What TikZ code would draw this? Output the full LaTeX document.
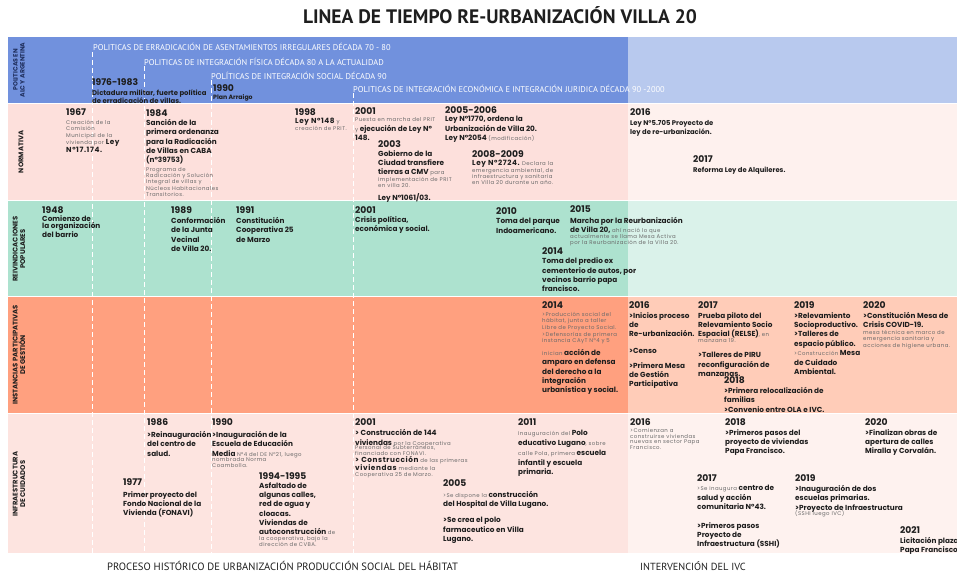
\documentclass[tikz,border=0pt]{standalone}
\usepackage{fontspec}
\setmainfont{Poppins}
\newfontfamily\spacedfont[LetterSpace=8]{Poppins}
\newfontfamily\condfont{PT Sans}
\usetikzlibrary{positioning}

\definecolor{ink}{HTML}{1E1E1E}
\definecolor{greytxt}{HTML}{6A6A6A}
\definecolor{navyink}{HTML}{1F2E5C}
\definecolor{polblue}{HTML}{7191DD}
\definecolor{polblueL}{HTML}{B8C9EE}
\definecolor{normpink}{HTML}{FDE0DC}
\definecolor{normpinkL}{HTML}{FEF1EE}
\definecolor{reivgreen}{HTML}{ADE2CF}
\definecolor{reivgreenL}{HTML}{DAF2EA}
\definecolor{instsalmon}{HTML}{FFA07F}
\definecolor{instsalmonL}{HTML}{FFCCB8}
\definecolor{infrapink}{HTML}{FDE4E0}
\definecolor{infrapinkL}{HTML}{FEF2EF}

\newcommand{\smtxt}[1]{{\spacedfont\fontsize{5.4}{6.4}\selectfont\mdseries\color{greytxt}#1}}
\newcommand{\bdtxt}[1]{{\fontsize{7.3}{9.4}\selectfont\bfseries\color{ink}#1}}

\begin{document}
\begin{tikzpicture}[x=1pt,y=-1pt,
	yearlbl/.style={anchor=north west,inner sep=0pt,text=ink,font=\fontsize{9.2}{10}\selectfont\bfseries},
	boldtxt/.style={anchor=north west,inner sep=0pt,align=left,text=ink,font=\fontsize{7.3}{9.4}\selectfont\bfseries},
	smalltxt/.style={anchor=north west,inner sep=0pt,align=left,text=greytxt,font=\spacedfont\fontsize{5.4}{6.4}\selectfont},
	bandtxt/.style={anchor=west,inner sep=0pt,text=white,font=\condfont\fontsize{8.4}{9}\selectfont},
	rowlbl/.style={rotate=90,inner sep=0pt,align=center,text=ink,font=\fontsize{6.8}{7.6}\selectfont\bfseries},
	dashline/.style={white,line width=0.8pt,dash pattern=on 5pt off 3pt}]

	\useasboundingbox (0,0) rectangle (957,574);

	\fill[polblue] (8,37) rectangle (627.5,103.3);
	\fill[polblueL] (627.5,37) rectangle (957,103.3);
	\fill[normpink] (8,104) rectangle (627.5,200.3);
	\fill[normpinkL] (627.5,104) rectangle (957,200.3);
	\fill[reivgreen] (8,201) rectangle (627.5,296.3);
	\fill[reivgreenL] (627.5,201) rectangle (957,296.3);
	\fill[instsalmon] (8,297) rectangle (627.5,413.3);
	\fill[instsalmonL] (627.5,297) rectangle (957,413.3);
	\fill[infrapink] (8,414) rectangle (627.5,553);
	\fill[infrapinkL] (627.5,414) rectangle (957,553);

	\coordinate (d1top) at (92,52);   \coordinate (d1bot) at (92,553);
	\coordinate (d2top) at (144,66);  \coordinate (d2bot) at (144,553);
	\coordinate (d3top) at (211,80);  \coordinate (d3bot) at (211,553);
	\coordinate (d4top) at (353,93);  \coordinate (d4bot) at (353,553);
	\draw[dashline] (d1top)--(d1bot);
	\draw[dashline] (d2top)--(d2bot);
	\draw[dashline] (d3top)--(d3bot);
	\draw[dashline] (d4top)--(d4bot);

	\node[text=ink,font=\condfont\fontsize{19.5}{20}\selectfont\bfseries] (title) at (500,15) {LINEA DE TIEMPO RE-URBANIZACIÓN VILLA 20};

	\node[rowlbl,text=navyink,font=\fontsize{6.2}{7}\selectfont\bfseries] (lblpol) at (19,70) {POLITICAS EN\\ALC Y ARGENTINA};
	\node[rowlbl] (lblnorm) at (21,152) {NORMATIVA};
	\node[rowlbl] (lblreiv) at (19,249) {REIVINDICACIONES\\POPULARES};
	\node[rowlbl] (lblinst) at (19,355) {INSTANCIAS PARTICIPATIVAS\\DE GESTIÓN};
	\node[rowlbl] (lblinfra) at (19,484) {INFRAESTRUCTURA\\DE CUIDADOS};

	\node[bandtxt] (polerr) at (93,47) {POLITICAS DE ERRADICACIÓN DE ASENTAMIENTOS IRREGULARES DÉCADA 70 - 80};
	\node[bandtxt] (polfis) at (144,62) {POLITICAS DE INTEGRACIÓN FÍSICA DÉCADA 80 A LA ACTUALIDAD};
	\node[bandtxt] (polsoc) at (211,76) {POLÍTICAS DE INTEGRACIÓN SOCIAL DÉCADA 90};
	\node[bandtxt] (poleco) at (353,89) {POLITICAS DE INTEGRACIÓN ECONÓMICA E INTEGRACIÓN JURIDICA DÉCADA 90 -2000};
	\node[yearlbl] (p1976) at (92,78.8) {1976-1983};
	\node[boldtxt,font=\fontsize{6.9}{8.5}\selectfont\bfseries] (p1976t) at (92,89.2) {Dictadura militar, fuerte política\\de erradicación de villas.};
	\node[yearlbl] (p1990) at (213,84.8) {1990};
	\node[boldtxt,font=\fontsize{6.2}{7}\selectfont\bfseries] (p1990t) at (213,94.6) {Plan Arraigo};

	\node[yearlbl] (n1967) at (66,108.8) {1967};
	\node[smalltxt] (n1967t) at (66,119.8) {Creación de la\\Comisión\\Municipal de la\\vivienda por \bdtxt{Ley}\\\bdtxt{N°17.174.}};
	\node[yearlbl] (n1984) at (146,109.8) {1984};
	\node[boldtxt] (n1984t) at (146,119.1) {Sanción de la\\primera ordenanza\\para la Radicación\\de Villas en CABA\\(n°39753)};
	\node[smalltxt] (n1984s) at (146,166.8) {Programa de\\Radicación y Solución\\Integral de villas y\\Núcleos Habitacionales\\Transitorios.};
	\node[yearlbl] (n1998) at (295,108.8) {1998};
	\node[smalltxt] (n1998t) at (295,118.1) {\bdtxt{Ley N°148} y\\creación de PRIT.};
	\node[yearlbl] (n2001) at (355,107.8) {2001};
	\node[smalltxt] (n2001s) at (355,116.8) {Puesta en marcha del PRIT};
	\node[boldtxt] (n2001t) at (355,125.1) {\smtxt{y} ejecución de Ley N°\\148.};
	\node[yearlbl] (n2003) at (378,140.8) {2003};
	\node[boldtxt] (n2003t) at (378,150.1) {Gobierno de la\\Ciudad transfiere\\tierras a CMV \smtxt{para}};
	\node[smalltxt] (n2003s) at (378,176.8) {implementación de PRIT\\en villa 20.};
	\node[boldtxt] (n2003l) at (378,193.1) {Ley N°1061/03.};
	\node[yearlbl] (n2005) at (445,106.8) {2005-2006};
	\node[boldtxt] (n2005t) at (445,116.1) {Ley N°1770, ordena la\\Urbanización de Villa 20.\\Ley N°2054 \smtxt{(modificación)}};
	\node[yearlbl] (n2008) at (472,150.8) {2008-2009};
	\node[smalltxt] (n2008t) at (472,160.1) {\bdtxt{Ley N°2724.} Declara la\\emergencia ambiental, de\\infraestructura y sanitaria\\en Villa 20 durante un año.};
	\node[yearlbl] (n2016) at (630,108.8) {2016};
	\node[boldtxt,font=\fontsize{6.8}{9}\selectfont\bfseries] (n2016t) at (630,120.3) {Ley N°5.705 Proyecto de\\ley de re-urbanización.};
	\node[yearlbl] (n2017) at (693,155.5) {2017};
	\node[boldtxt,font=\fontsize{6.8}{9}\selectfont\bfseries] (n2017t) at (693,167.3) {Reforma Ley de Alquileres.};

	\node[yearlbl] (r1948) at (42,206.8) {1948};
	\node[boldtxt,font=\fontsize{7.3}{5.6}\selectfont\bfseries] (r1948t) at (42,215.1) {Comienzo de\\la organización\\del barrio};
	\node[yearlbl] (r1989) at (171,206.8) {1989};
	\node[boldtxt] (r1989t) at (171,217.1) {Conformación\\de la Junta\\Vecinal\\de Villa 20.};
	\node[yearlbl] (r1991) at (236,206.8) {1991};
	\node[boldtxt] (r1991t) at (236,217.1) {Constitución\\Cooperativa 25\\de Marzo};
	\node[yearlbl] (r2001) at (355,206.8) {2001};
	\node[boldtxt] (r2001t) at (355,216.1) {Crisis política,\\económica y social.};
	\node[yearlbl] (r2010) at (496,207.8) {2010};
	\node[boldtxt] (r2010t) at (496,218.1) {Toma del parque\\Indoamericano.};
	\node[yearlbl] (r2015) at (570,205.8) {2015};
	\node[boldtxt,font=\fontsize{7.3}{9}\selectfont\bfseries] (r2015t) at (570,217.1) {Marcha por la Reurbanización\\de Villa 20, \smtxt{ahí nació lo que}};
	\node[smalltxt] (r2015s) at (570,233.8) {actualmente se llama Mesa Activa\\por la Reurbanización de la Villa 20.};
	\node[yearlbl] (r2014) at (542,247.8) {2014};
	\node[boldtxt] (r2014t) at (542,257.6) {Toma del predio ex\\cementerio de autos, por\\vecinos barrio papa\\francisco.};

	\node[yearlbl] (i2014) at (542,301.8) {2014};
	\node[smalltxt,font=\spacedfont\fontsize{5.4}{6.6}\selectfont] (i2014s) at (542,311.8) {>Producción social del\\hábitat, junto a taller\\Libre de Proyecto Social.\\>Defensorías de primera\\instancia CAyT N°4 y 5};
	\node[boldtxt] (i2014t) at (542,349.1) {\smtxt{inician} acción de\\amparo en defensa\\del derecho a la\\integración\\urbanística y social.};
	\node[yearlbl] (i2016) at (629,301.8) {2016};
	\node[boldtxt] (i2016t) at (629,312.1) {>Inicios proceso\\de\\Re-urbanización.};
	\node[boldtxt] (i2016c) at (629,348.1) {>Censo};
	\node[boldtxt] (i2016m) at (629,362.1) {>Primera Mesa\\de Gestión\\Participativa};
	\node[yearlbl] (i2017) at (698,301.8) {2017};
	\node[boldtxt] (i2017t) at (698,312.1) {Prueba piloto del\\Relevamiento Socio\\Espacial (RELSE)\smtxt{, en}};
	\node[smalltxt] (i2017s) at (698,338.8) {manzana 19.};
	\node[boldtxt] (i2017p) at (698,352.1) {>Talleres de PIRU\\reconfiguración de\\manzanas.};
	\node[yearlbl] (i2018) at (724,376.8) {2018};
	\node[boldtxt] (i2018t) at (724,387.1) {>Primera relocalización de\\familias\\>Convenio entre OLA e IVC.};
	\node[yearlbl] (i2019) at (794,301.8) {2019};
	\node[boldtxt] (i2019t) at (794,312.1) {>Relevamiento\\Socioproductivo.\\>Talleres de\\espacio público.\\\smtxt{>Construcción} Mesa\\de Cuidado\\Ambiental.};
	\node[yearlbl] (i2020) at (863,301.8) {2020};
	\node[boldtxt] (i2020t) at (863,312.1) {>Constitución Mesa de\\Crisis COVID-19.};
	\node[smalltxt] (i2020s) at (863,329.8) {mesa técnica en marco de\\emergencia sanitaria y\\acciones de higiene urbana.};

	\node[yearlbl] (f1986) at (147,418.8) {1986};
	\node[boldtxt] (f1986t) at (147,431.1) {>Reinauguración\\del centro de\\salud.};
	\node[yearlbl] (f1990) at (212,418.8) {1990};
	\node[boldtxt] (f1990t) at (212,431.1) {>Inauguración de la\\Escuela de Educación\\Media \smtxt{N°4 del DE N°21, luego}};
	\node[smalltxt] (f1990s) at (212,456.8) {nombrada Norma\\Coambolla.};
	\node[yearlbl] (f1977) at (123,478.8) {1977};
	\node[boldtxt] (f1977t) at (123,491.1) {Primer proyecto del\\Fondo Nacional de la\\Vivienda (FONAVI)};
	\node[yearlbl] (f1994) at (259,472.8) {1994-1995};
	\node[boldtxt] (f1994t) at (259,482.1) {Asfaltado de\\algunas calles,\\red de agua y\\cloacas.};
	\node[boldtxt] (f1994v) at (259,519.1) {Viviendas de\\autoconstrucción \smtxt{de}};
	\node[smalltxt] (f1994s) at (259,535.8) {la cooperativa, bajo la\\dirección de CVBA.};
	\node[yearlbl] (f2001) at (355,418.8) {2001};
	\node[boldtxt,font=\fontsize{7.3}{10}\selectfont\bfseries] (f2001t) at (355,429.1) {> Construcción de 144\\viviendas \smtxt{por la Cooperativa}};
	\node[smalltxt] (f2001s) at (355,445.1) {Personal de Subterráneos,\\financiado con FONAVI.\\\bdtxt{> Construcción} de las primeras\\\bdtxt{viviendas} mediante la\\Cooperativa 25 de Marzo.};
	\node[yearlbl] (f2005) at (443,479.8) {2005};
	\node[boldtxt] (f2005t) at (443,491.1) {\smtxt{>Se dispone la} construcción\\del Hospital de Villa Lugano.};
	\node[boldtxt] (f2005p) at (443,517.1) {>Se crea el polo\\farmaceutico en Villa\\Lugano.};
	\node[yearlbl] (f2011) at (518,418.8) {2011};
	\node[boldtxt,font=\fontsize{7.3}{9.8}\selectfont\bfseries] (f2011t) at (518,430.1) {\smtxt{Inauguración del} Polo\\educativo Lugano\smtxt{, sobre}\\\smtxt{calle Pola, primera} escuela\\infantil y escuela\\primaria.};
	\node[yearlbl] (f2016) at (630,418.8) {2016};
	\node[smalltxt,font=\spacedfont\fontsize{5.4}{5.9}\selectfont] (f2016t) at (630,427.8) {>Comienzan a\\construirse viviendas\\nuevas en sector Papa\\Francisco.};
	\node[yearlbl] (f2018) at (725,418.8) {2018};
	\node[boldtxt] (f2018t) at (725,429.1) {>Primeros pasos del\\proyecto de viviendas\\Papa Francisco.};
	\node[yearlbl] (f2020) at (865,418.8) {2020};
	\node[boldtxt] (f2020t) at (865,429.1) {>Finalizan obras de\\apertura de calles\\Miralla y Corvalán.};
	\node[yearlbl] (f2017) at (697,474.8) {2017};
	\node[boldtxt] (f2017t) at (697,485.1) {\smtxt{>Se inaugura} centro de\\salud y acción\\comunitaria N°43.};
	\node[boldtxt] (f2017p) at (697,522.1) {>Primeros pasos\\Proyecto de\\Infraestructura (SSHI)};
	\node[yearlbl] (f2019) at (795,474.8) {2019};
	\node[boldtxt] (f2019t) at (795,485.1) {>Inauguración de dos\\escuelas primarias.\\>Proyecto de Infraestructura};
	\node[smalltxt] (f2019s) at (795,509.8) {(SSHI luego IVC)};
	\node[yearlbl] (f2021) at (900,526.8) {2021};
	\node[boldtxt] (f2021t) at (900,537.1) {Licitación plaza\\Papa Francisco};

	\node[anchor=west,inner sep=0pt,text=ink,font=\condfont\fontsize{10.6}{11}\selectfont] (proceso) at (107,566) {PROCESO HISTÓRICO DE URBANIZACIÓN PRODUCCIÓN SOCIAL DEL HÁBITAT};
	\node[anchor=west,inner sep=0pt,text=ink,font=\condfont\fontsize{10.3}{11}\selectfont] (ivc) at (640,566) {INTERVENCIÓN DEL IVC};
\end{tikzpicture}
\end{document}
